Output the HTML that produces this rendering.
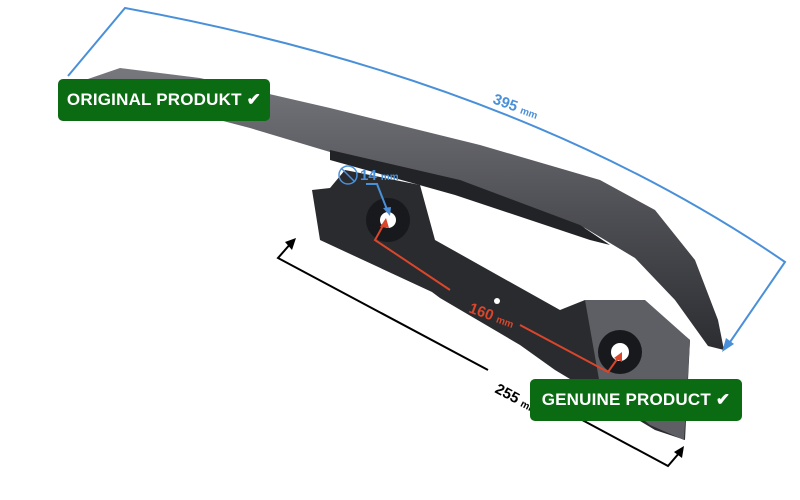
<!DOCTYPE html>
<html><head><style>
body{margin:0;background:#fff;width:800px;height:500px;overflow:hidden;position:relative;font-family:"Liberation Sans",sans-serif}
.tag{position:absolute;background:#0b6b12;color:#fff;font-weight:bold;font-size:17px;border-radius:5px;height:42px;line-height:42px;text-align:center;letter-spacing:0.2px}
</style></head><body>
<svg width="800" height="500" style="position:absolute;left:0;top:0">
<defs>
<linearGradient id="g" x1="0" y1="0" x2="0" y2="1"><stop offset="0" stop-color="#77787d"/><stop offset="0.5" stop-color="#4f5055"/><stop offset="1" stop-color="#2c2d31"/></linearGradient>
</defs>
<!-- mounting bar -->
<path d="M312,190 L330,188 L345,170 L420,185 L435,240 L560,310 L585,300 L640,300 L690,340 L685,440 L655,430 L555,370 L520,345 L440,298 L432,292 L320,240 Z" fill="#2a2b2f"/>
<path d="M585,300 L645,300 L690,340 L684,440 L650,425 L600,385 Z" fill="#5e5f64"/>
<!-- main handle -->
<path d="M85,80 L120,68 L200,78 L330,108 L480,145 L600,180 L655,210 L695,260 L718,320 L724,350 L708,346 L675,300 L635,258 L585,228 L460,185 L340,155 L250,128 L150,102 L95,88 Z" fill="url(#g)"/>
<path d="M330,150 L460,180 L580,225 L610,245 L590,240 L455,195 L330,160 Z" fill="#222327"/>
<circle cx="388" cy="220" r="22" fill="#18191c"/><circle cx="388" cy="220" r="8" fill="#fff"/>
<circle cx="620" cy="352" r="22" fill="#18191c"/><circle cx="620" cy="352" r="9" fill="#fff"/>
<circle cx="497" cy="301" r="3" fill="#fff"/>
<!-- blue 395 -->
<g stroke="#4a90d9" stroke-width="2" fill="none">
<path d="M68,76 L125,8 Q520,80 785,262 L728,345"/>
</g>
<path d="M722,352 L726,338 L734,344 Z" fill="#4a90d9"/>
<text x="492" y="103" transform="rotate(20 492 103)" fill="#4a90d9" font-weight="bold" font-size="15">395 <tspan font-size="10">mm</tspan></text>
<!-- blue 14 -->
<circle cx="348" cy="175" r="9" stroke="#4a90d9" stroke-width="1.5" fill="none"/>
<line x1="341" y1="168" x2="355" y2="182" stroke="#4a90d9" stroke-width="1.5"/>
<text x="360" y="180" fill="#4a90d9" font-weight="bold" font-size="15">14 <tspan font-size="10">mm</tspan></text>
<path d="M366,184 L377,184 L388,212" stroke="#4a90d9" stroke-width="2" fill="none"/>
<path d="M390,216 L383,208 L391,207 Z" fill="#4a90d9"/>
<!-- red 160 -->
<path d="M385,222 L375,240 L450,290 M520,325 L608,372 L618,358" stroke="#d9462b" stroke-width="2" fill="none"/>
<path d="M386,218 L380,227 L389,228 Z" fill="#d9462b"/>
<path d="M622,352 L614,358 L622,362 Z" fill="#d9462b"/>
<text x="468" y="312" transform="rotate(20 468 312)" fill="#d9462b" font-weight="bold" font-size="15">160 <tspan font-size="10">mm</tspan></text>
<!-- black 255 -->
<path d="M292,242 L278,258 L488,370 M545,400 L668,466 L680,452" stroke="#000" stroke-width="2" fill="none"/>
<path d="M296,238 L285,242 L292,250 Z" fill="#000"/>
<path d="M684,446 L674,452 L682,458 Z" fill="#000"/>
<text x="494" y="392" transform="rotate(28 494 392)" fill="#000" font-weight="bold" font-size="15">255 <tspan font-size="10">mm</tspan></text>
</svg>
<div class="tag" style="left:58px;top:79px;width:212px">ORIGINAL PRODUKT ✔</div>
<div class="tag" style="left:530px;top:379px;width:212px">GENUINE PRODUCT ✔</div>
</body></html>
